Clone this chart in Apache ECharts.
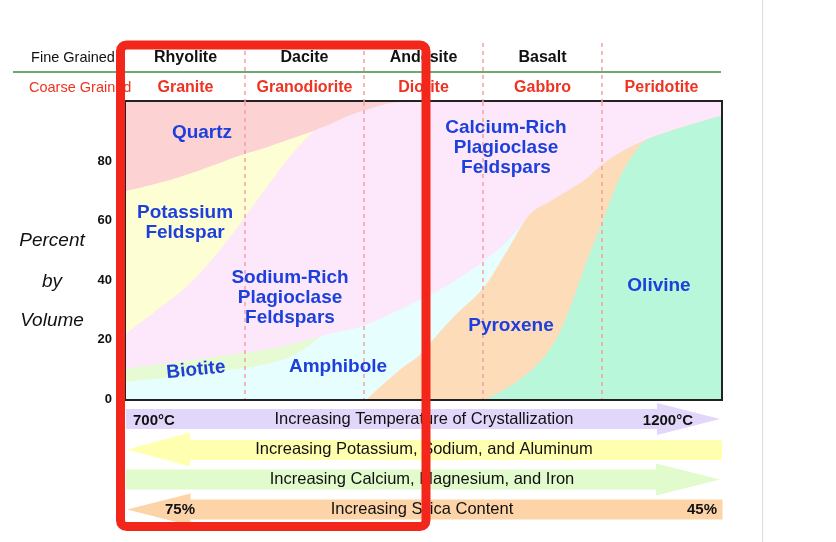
<!DOCTYPE html>
<html>
<head>
<meta charset="utf-8">
<script src="https://cdn.jsdelivr.net/npm/echarts@6/dist/echarts.min.js"></script>
<style>
html, body { margin: 0; padding: 0; background: #fff; }
#chart { width: 836px; height: 542px; }
</style>
</head>
<body>
<div id="chart"></div>
<script>
// rock columns (x runs 0..100, each rock column is 20 wide)
const fineGrained = ["Rhyolite", "Dacite", "Andesite", "Basalt", ""]
const coarseGrained = ["Granite", "Granodiorite", "Diorite", "Gabbro", "Peridotite"]

// mineral boundaries, [x, percent]
const quartzBase = [[0, 70], [4.6, 72.2], [10.2, 75.5], [15.8, 79.5], [19.7, 82.3], [24.2, 85.1], [31.5, 90.2], [34.8, 93], [37.6, 95.5], [40.5, 97.5], [44.4, 99.6], [48, 100], [100, 100]]
const kFeldsparBase = [[0, 22], [4.5, 28.9], [10.2, 37.9], [15.8, 50.2], [19.7, 60.4], [24.2, 72.8], [28.1, 82.9], [31.5, 90], [33, 91.5]]
const biotiteTop = [[0, 10.3], [10, 12.9], [19.7, 15.5], [25.9, 17.6], [29.7, 19.5], [33, 21.2]]
const amphiboleTop = [[0, 5.8], [10, 8], [19.7, 10.4], [25.9, 13], [29.7, 16.5], [33, 21.2], [39.8, 24.6], [49.4, 33.4], [55, 39.5], [60, 46.2], [64, 53], [67.9, 62]]
const pyroxeneTop = [[40.5, 0], [46.4, 10.4], [49.4, 14.8], [51.1, 18.8], [55, 27.5], [60, 37.3], [64, 49.7], [67.9, 62.2], [71.3, 66.6], [76.8, 73.3], [79.7, 78.4], [82.5, 82.4], [86.9, 86.9], [90.9, 89.8], [95.3, 92.6], [100, 95.4]]
const olivineTop = [[60.6, 0], [65.7, 5.8], [69.6, 12.6], [72.4, 20.5], [74.6, 30.6], [77.4, 46.4], [79.7, 57.7], [80.8, 63.5], [83, 74.6], [85.3, 82.4], [87.2, 86.9], [90.9, 89.8], [95.3, 92.6], [100, 95.4]]

const chart = echarts.init(document.getElementById("chart"))
const FONT = "Liberation Sans, Arial, Helvetica, sans-serif"
const BLUE = "#1d3fdc"
const RED = "#ee3322"

// painted back to front, each layer fills down to 0
const layer = (name, data, color) => ({
	name: name,
	type: "line",
	xAxisIndex: 0,
	yAxisIndex: 0,
	data: data,
	smooth: 0.35,
	symbol: "none",
	silent: true,
	lineStyle: { width: 0, opacity: 0 },
	areaStyle: { color: color, opacity: 1 }
})

const txt = (text, x, y, o) => ({
	type: "text",
	x: x,
	y: y,
	z: 50,
	silent: true,
	style: Object.assign({
		text: text,
		fill: "#111",
		fontFamily: FONT,
		fontSize: 16.5,
		align: "center",
		verticalAlign: "middle"
	}, o || {})
})

const blueLabel = (text, x, y, extra) => txt(text, x, y, Object.assign({
	fill: BLUE, fontSize: 19, fontWeight: "bold", lineHeight: 20
}, extra || {}))

const dashed = { show: true, showMinLine: false, showMaxLine: false, lineStyle: { color: "#f4a0a0", type: [4, 4], width: 1.5 } }

let option = {
	backgroundColor: "#fff",
	animation: false,
	grid: [
		{ left: 126, right: 115, top: 102, bottom: 143, show: true, borderColor: "#222", borderWidth: 4, backgroundColor: "transparent" },
		{ left: 126, right: 115, top: 43, height: 59 }
	],
	xAxis: [
		{
			gridIndex: 0, type: "value", min: 0, max: 100, interval: 20, z: 5,
			axisLine: { show: false }, axisTick: { show: false }, axisLabel: { show: false },
			splitLine: dashed
		},
		{
			gridIndex: 1, type: "value", min: 0, max: 100, interval: 20,
			axisLine: { show: false }, axisTick: { show: false }, axisLabel: { show: false },
			splitLine: dashed
		},
		{
			gridIndex: 0, type: "category", position: "top", data: fineGrained,
			axisLine: { show: false }, axisTick: { show: false }, splitLine: { show: false },
			axisLabel: { interval: 0, margin: 44, verticalAlign: "middle", color: "#111", fontSize: 16, fontWeight: "bold", fontFamily: FONT }
		},
		{
			gridIndex: 0, type: "category", position: "top", data: coarseGrained,
			axisLine: { show: false }, axisTick: { show: false }, splitLine: { show: false },
			axisLabel: { interval: 0, margin: 14, verticalAlign: "middle", color: RED, fontSize: 16, fontWeight: "bold", fontFamily: FONT }
		}
	],
	yAxis: [
		{
			gridIndex: 0, type: "value", min: 0, max: 100, interval: 20,
			axisLine: { show: false }, axisTick: { show: false }, splitLine: { show: false },
			axisLabel: {
				margin: 14, color: "#111", fontSize: 13, fontWeight: "bold", fontFamily: FONT,
				formatter: v => (v === 100 ? "" : v)
			}
		},
		{ gridIndex: 1, type: "value", min: 0, max: 1, show: false }
	],
	series: [
		layer("Quartz", [[0, 100], [100, 100]], "#fdd2d2"),
		layer("Plagioclase", quartzBase, "#fce8fa"),
		layer("Potassium Feldspar", quartzBase.filter(p => p[0] <= 31.5), "#fefed4"),
		layer("Sodium Plagioclase", kFeldsparBase, "#fce8fa"),
		layer("Biotite", biotiteTop, "#e6fad4"),
		layer("Amphibole", amphiboleTop, "#e6fefe"),
		layer("Pyroxene", pyroxeneTop, "#fddcba"),
		layer("Olivine", olivineTop, "#b8f7da")
	],
	graphic: {
		elements: [
			// page edge line
			{ type: "line", z: 1, shape: { x1: 762.5, y1: 0, x2: 762.5, y2: 542 }, style: { stroke: "#ddd", lineWidth: 1 } },
			{ type: "line", z: 1, shape: { x1: 13, y1: 72, x2: 721, y2: 72 }, style: { stroke: "#3a8f3a", lineWidth: 1.5 } },
			txt("Fine Grained", 73, 58, { fontSize: 14.5 }),
			txt("Coarse Grained", 29, 88, { fontSize: 14.5, fill: RED, align: "left" }),
			txt("Percent", 52, 241, { fontSize: 19, fontStyle: "italic" }),
			txt("by", 52, 282, { fontSize: 19, fontStyle: "italic" }),
			txt("Volume", 52, 321, { fontSize: 19, fontStyle: "italic" }),

			blueLabel("Quartz", 202, 133),
			blueLabel("Potassium\nFeldspar", 185, 223),
			blueLabel("Sodium-Rich\nPlagioclase\nFeldspars", 290, 298),
			{ type: "text", x: 196, y: 370, rotation: 0.1, z: 50, silent: true,
				style: { text: "Biotite", fill: BLUE, fontSize: 19, fontWeight: "bold", fontFamily: FONT, align: "center", verticalAlign: "middle" } },
			blueLabel("Amphibole", 338, 367),
			blueLabel("Calcium-Rich\nPlagioclase\nFeldspars", 506, 148),
			blueLabel("Pyroxene", 511, 326),
			blueLabel("Olivine", 659, 286),

			// trend arrows under the plot
			{ type: "polygon", z: 10, shape: { points: [[126, 409], [657, 409], [657, 403], [720, 419], [657, 435], [657, 429], [126, 429]] }, style: { fill: "#e2d6fa" } },
			{ type: "polygon", z: 10, shape: { points: [[722, 440], [190, 440], [190, 432.5], [127, 449.5], [190, 466.5], [190, 460], [722, 460]] }, style: { fill: "#ffffb0" } },
			{ type: "polygon", z: 10, shape: { points: [[126, 469.5], [656, 469.5], [656, 463.5], [720, 479.5], [656, 495.5], [656, 489.5], [126, 489.5]] }, style: { fill: "#e2fbcc" } },
			{ type: "polygon", z: 10, shape: { points: [[722.5, 499.5], [190.5, 499.5], [190.5, 493.5], [127, 509.5], [190.5, 525.5], [190.5, 519.5], [722.5, 519.5]] }, style: { fill: "#fdd3a8" } },
			txt("700°C", 133, 420.5, { fontSize: 15, fontWeight: "bold", align: "left" }),
			txt("Increasing Temperature of Crystallization", 424, 419.5),
			txt("1200°C", 693, 420.5, { fontSize: 15, fontWeight: "bold", align: "right" }),
			txt("Increasing Potassium, Sodium, and Aluminum", 424, 449.5),
			txt("Increasing Calcium, Magnesium, and Iron", 422, 479.5),
			txt("75%", 165, 510, { fontSize: 15, fontWeight: "bold", align: "left" }),
			txt("Increasing Silica Content", 422, 509.5),
			txt("45%", 717, 510, { fontSize: 15, fontWeight: "bold", align: "right" }),

			// red highlight box
			{ type: "rect", z: 100, silent: true, shape: { x: 120.5, y: 45, width: 305.5, height: 481.5, r: 6 }, style: { fill: "none", stroke: "#f2261a", lineWidth: 9 } }
		]
	}
}

chart.setOption(option)
</script>
</body>
</html>
